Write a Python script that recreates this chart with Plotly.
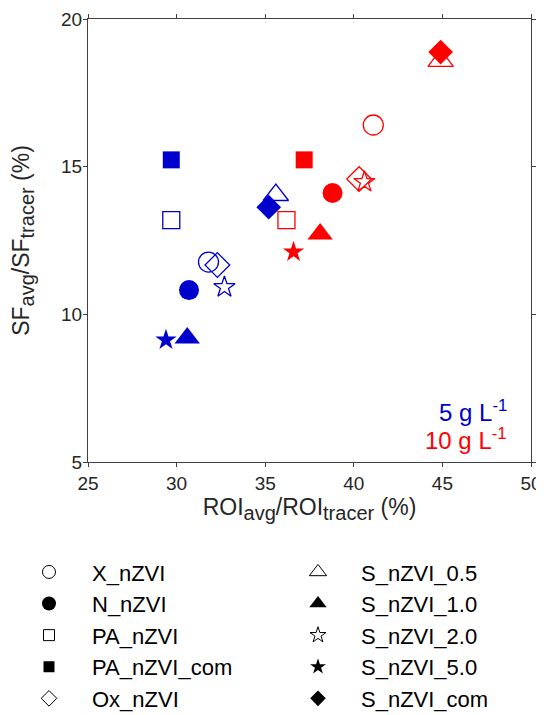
import plotly.graph_objects as go

# ---- data ----
materials = ["X_nZVI", "N_nZVI", "PA_nZVI", "PA_nZVI_com", "Ox_nZVI",
             "S_nZVI_0.5", "S_nZVI_1.0", "S_nZVI_2.0", "S_nZVI_5.0", "S_nZVI_com"]
symbols = ["circle-open", "circle", "square-open", "square", "diamond-open",
           "triangle-up-open", "triangle-up", "star-open", "star", "diamond"]
# 5 g/L (blue)
roi_5 = [31.8, 30.7, 29.7, 29.7, 32.3, 35.6, 30.6, 32.7, 29.4, 35.2]
sf_5 = [11.77, 10.82, 13.19, 15.23, 11.67, 14.04, 9.20, 10.92, 9.13, 13.63]
# 10 g/L (red)
roi_10 = [41.1, 38.8, 36.2, 37.2, 40.3, 44.9, 38.1, 40.6, 36.6, 44.9]
sf_10 = [16.41, 14.11, 13.19, 15.23, 14.58, 18.58, 12.72, 14.48, 12.11, 18.88]

x_ticks = [25, 30, 35, 40, 45, 50]
y_ticks = [5, 10, 15, 20]

BLUE = "#0000CC"
RED = "#FF0000"
FONT = "Liberation Sans, Arial, Helvetica, sans-serif"

plot_size = {"circle": 20, "circle-open": 20, "square": 17, "square-open": 17,
             "diamond": 19, "diamond-open": 19, "triangle-up": 22,
             "triangle-up-open": 22, "star": 16, "star-open": 16}
legend_size = {"circle": 14, "circle-open": 13, "square": 11, "square-open": 11,
               "diamond": 12, "diamond-open": 12, "triangle-up": 15,
               "triangle-up-open": 15, "star": 12, "star-open": 12}

fig = go.Figure()
for i in range(len(materials)):
    sym = symbols[i]
    is_open = sym.endswith("-open")
    fig.add_trace(go.Scatter(
        x=[roi_5[i], roi_10[i]], y=[sf_5[i], sf_10[i]],
        mode="markers", showlegend=False, name=materials[i],
        marker=dict(symbol=sym, size=plot_size[sym], color=[BLUE, RED],
                    line=dict(width=1.3 if is_open else 0, color=[BLUE, RED])),
        cliponaxis=False,
    ))

# legend entries (black symbols): first five in column 1, last five in column 2
for i in range(len(materials)):
    sym = symbols[i]
    is_open = sym.endswith("-open")
    fig.add_trace(go.Scatter(
        x=[None], y=[None], mode="markers", name=materials[i], showlegend=True,
        legend="legend" if i < 5 else "legend2",
        marker=dict(symbol=sym, size=legend_size[sym], color="black",
                    line=dict(width=1 if is_open else 0, color="black")),
    ))

axis_common = dict(
    showline=True, linecolor="#404040", linewidth=1, mirror="ticks",
    ticks="outside", ticklen=4, tickcolor="#404040", tickwidth=1,
    showgrid=False, zeroline=False,
    tickfont=dict(family=FONT, size=19, color="#262626"),
)

SUB = "<sub><span style='font-size:20px'>{}</span></sub>"
x_title = "ROI" + SUB.format("avg") + "/ROI" + SUB.format("tracer") + " (%)"
y_title = "SF" + SUB.format("avg") + "/SF" + SUB.format("tracer") + " (%)"

legend_common = dict(orientation="v", xanchor="left", y=-0.2012, yanchor="top",
                     itemwidth=76, font=dict(family=FONT, size=22, color="black"),
                     bgcolor="rgba(0,0,0,0)", traceorder="normal")

fig.update_layout(
    width=536, height=707,
    margin=dict(l=80, r=13, t=11, b=253, autoexpand=False),
    paper_bgcolor="white", plot_bgcolor="white",
    xaxis=dict(range=[25, 50], tickvals=x_ticks, **axis_common,
               title=dict(text=x_title,
                          font=dict(family=FONT, size=23, color="#262626"), standoff=4)),
    yaxis=dict(range=[5, 20], tickvals=y_ticks, ticklabelstandoff=-3, **axis_common,
               title=dict(text=y_title,
                          font=dict(family=FONT, size=23, color="#262626"), standoff=28)),
    legend=dict(x=-0.1851, **legend_common),
    legend2=dict(x=0.4221, **legend_common),
    annotations=[
        dict(text="5 g L<sup>-1</sup>", xref="paper", yref="paper", x=0.95, y=51 / 443,
             xanchor="right", yanchor="middle", showarrow=False,
             font=dict(family=FONT, size=24, color=BLUE)),
        dict(text="10 g L<sup>-1</sup>", xref="paper", yref="paper", x=0.95, y=23 / 443,
             xanchor="right", yanchor="middle", showarrow=False,
             font=dict(family=FONT, size=24, color=RED)),
    ],
)

fig.write_html("out.html")
